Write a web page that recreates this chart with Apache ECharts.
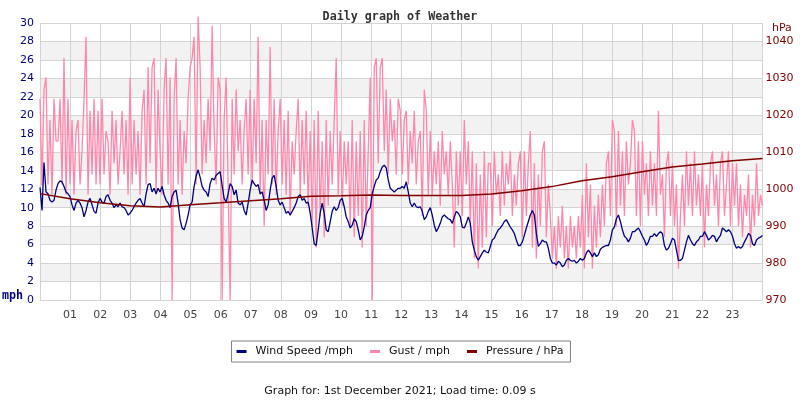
<!DOCTYPE html>
<html><head><meta charset="utf-8">
<script src="https://cdn.jsdelivr.net/npm/echarts@6/dist/echarts.min.js"></script>
<style>html,body{margin:0;padding:0;background:#fff}#c{width:800px;height:400px}</style>
</head><body><div id="c"></div>
<script>
// sampling interval of wind/gust readings, in hours (362 samples over the day)
const SAMPLE_HOURS = 24 / 361;

const windSpeed = [
12.2, 9.7, 14.9, 11.7, 11.5, 10.8, 10.6, 10.8, 11.9, 12.6, 12.9, 12.8, 12.3, 11.7, 11.5,
11.2, 10.3, 9.7, 10.5, 10.8, 10.5, 10.0, 9.0, 9.7, 10.6, 11.0, 10.3, 9.6, 9.4, 10.5,
11.0, 10.6, 10.5, 11.2, 11.4, 10.8, 10.5, 10.0, 10.3, 10.1, 10.5, 10.1, 10.0, 9.7, 9.2,
9.4, 9.7, 10.1, 10.5, 10.8, 11.0, 10.5, 10.1, 11.5, 12.5, 12.6, 11.7, 12.1, 11.5, 12.1,
11.7, 12.3, 11.4, 10.8, 10.5, 10.0, 11.2, 11.7, 11.9, 10.5, 8.7, 7.8, 7.6, 8.3, 9.2, 10.3, 10.6, 12.3, 13.4, 14.1,
13.3, 12.3, 11.9, 11.7, 11.2, 12.6, 13.2, 13.0, 13.5, 13.7, 13.9, 12.4, 11.0, 10.6, 11.5, 12.6, 12.3, 11.4, 11.9, 10.5,
10.3, 10.6, 9.7, 9.2, 10.5, 11.9, 13.0, 12.6, 12.3, 12.5, 11.5, 11.7, 10.8, 9.7, 10.3, 11.9, 13.2, 13.5, 12.3, 10.8,
10.3, 10.6, 10.0, 9.4, 9.6, 9.2, 9.6, 10.0, 10.5, 11.2, 11.4, 10.8, 11.0, 10.5, 10.6, 9.4, 7.8, 6.1, 5.9, 7.6,
9.4, 10.5, 9.4, 7.6, 7.4, 8.5, 9.6, 10.1, 9.7, 10.0, 10.8, 11.0, 10.1, 9.0, 8.5, 7.8, 8.1, 8.8, 8.5, 7.6,
6.5, 6.9, 7.9, 9.2, 9.7, 10.0, 11.5, 12.3, 13.0, 13.2, 13.9, 14.4, 14.6, 14.3, 13.0, 12.1, 11.9, 11.7, 11.9, 12.1,
12.1, 12.3, 12.1, 12.8, 11.7, 10.5, 10.1, 10.5, 10.1, 10.0, 10.1, 9.6, 8.7, 9.0, 9.6, 10.0, 9.2, 8.1, 7.4, 7.8,
8.3, 9.0, 9.2, 9.0, 8.8, 8.7, 8.3, 9.0, 9.6, 9.4, 9.0, 7.9, 7.8, 8.3, 9.0, 8.3, 6.3, 5.4, 4.7, 4.3,
4.7, 5.1, 5.4, 5.2, 5.1, 5.8, 6.5, 6.7, 7.2, 7.6, 7.8, 8.1, 8.5, 8.7, 8.3, 7.9, 7.6, 7.2, 6.5, 5.9,
5.9, 6.3, 7.0, 7.8, 8.5, 9.2, 9.7, 9.2, 7.2, 5.8, 6.1, 6.5, 6.3, 6.3, 5.6, 4.5, 4.0, 4.0, 3.8, 4.2,
4.0, 3.6, 3.8, 4.3, 4.5, 4.3, 4.2, 4.3, 4.0, 4.2, 4.5, 4.3, 4.5, 5.1, 5.4, 5.1, 4.7, 5.1, 4.7, 4.9,
5.5, 5.7, 5.8, 5.9, 5.9, 6.5, 7.6, 7.9, 8.8, 9.2, 8.5, 7.6, 6.9, 6.7, 6.3, 6.7, 7.4, 7.4, 7.6, 7.8,
7.4, 6.9, 6.5, 5.9, 6.3, 6.9, 6.9, 7.2, 6.9, 7.2, 7.4, 7.2, 5.9, 5.4, 5.6, 6.1, 6.7, 6.5, 5.4, 4.3,
4.3, 4.5, 5.4, 6.3, 7.0, 6.5, 6.1, 5.9, 6.3, 6.5, 6.9, 6.9, 7.4, 7.0, 6.5, 6.7, 7.0, 6.9, 6.3, 6.7,
7.0, 7.8, 7.6, 7.4, 7.6, 7.4, 6.9, 6.1, 5.6, 5.8, 5.6, 5.8, 6.3, 6.7, 7.2, 7.0, 6.1, 5.9, 6.5, 6.7, 6.8, 7.0
];

const gust = [
21.8, 12.4, 22.8, 24.1, 12.5, 19.5, 11.4, 21.8, 17.2, 17.2, 21.8, 12.5, 26.2, 11.4, 21.8,
12.5, 19.5, 11.4, 18.3, 19.5, 12.5, 16.1, 21.8, 28.5, 11.4, 20.5, 13.6, 21.8, 12.5, 20.5,
12.5, 21.8, 13.6, 18.3, 17.2, 11.4, 20.5, 14.8, 19.5, 12.5, 16.1, 20.5, 13.6, 19.5, 11.4,
24.1, 12.5, 19.5, 13.6, 18.3, 11.4, 20.5, 22.8, 12.5, 25.2, 14.8, 25.2, 26.2, 11.4, 22.8,
16.1, 11.4, 22.8, 26.2, 12.5, 24.1, 0, 21.8, 26.2, 12.5, 19.5, 11.4, 18.3, 14.8, 21.8,
25.2, 26.2, 28.5, 12.5, 30.7, 25.2, 13.6, 19.5, 14.8, 21.8, 16.1, 29.7, 18.3, 12.5, 24.1,
22.8, 0, 19.5, 24.1, 12.5, 0, 21.8, 13.6, 22.8, 16.1, 19.5, 12.5, 18.3, 21.8, 13.6,
22.8, 12.5, 21.8, 14.8, 28.5, 11.4, 19.5, 8.0, 19.5, 13.6, 27.4, 12.5, 21.8, 11.4, 18.3,
21.8, 12.5, 19.5, 11.4, 20.5, 9.1, 17.2, 13.6, 18.3, 21.8, 11.4, 19.5, 12.5, 20.5, 10.2,
18.3, 8.0, 19.5, 5.7, 20.5, 9.1, 17.2, 6.8, 19.5, 10.2, 18.3, 12.5, 19.5, 26.2, 11.4,
18.3, 10.2, 17.2, 12.5, 17.2, 8.0, 19.5, 6.8, 17.2, 9.1, 18.3, 5.7, 19.5, 8.0, 16.1,
24.1, 0, 25.2, 26.2, 14.8, 25.2, 26.2, 16.1, 22.8, 13.6, 21.8, 17.2, 19.5, 13.6, 21.8,
20.5, 13.6, 19.5, 20.5, 12.5, 18.3, 14.8, 20.5, 12.5, 17.2, 18.3, 9.1, 22.8, 20.5, 11.4,
18.3, 11.4, 16.1, 12.5, 17.2, 10.2, 18.3, 13.6, 16.1, 11.4, 17.2, 12.5, 5.7, 16.1, 10.2,
16.1, 9.1, 19.5, 12.5, 17.2, 8.0, 16.1, 4.5, 14.8, 3.4, 13.6, 5.7, 16.1, 6.8, 14.8,
14.8, 8.0, 16.1, 11.4, 13.6, 9.1, 16.1, 10.2, 14.8, 12.5, 16.1, 9.1, 13.6, 10.2, 14.8,
16.1, 6.8, 16.1, 9.1, 14.8, 18.3, 5.7, 14.8, 4.5, 13.6, 8.0, 16.1, 17.2, 6.8, 12.5,
9.1, 4.5, 8.0, 3.4, 9.1, 5.7, 10.2, 4.5, 8.0, 3.4, 9.1, 5.7, 8.0, 4.5, 9.1,
5.7, 11.4, 3.4, 14.8, 6.8, 12.5, 3.4, 10.2, 5.7, 11.4, 6.8, 12.5, 8.0, 14.8, 16.1,
9.1, 19.5, 18.3, 8.0, 18.3, 10.2, 16.1, 9.1, 17.2, 12.5, 14.8, 19.5, 18.3, 9.1, 17.2,
8.0, 17.2, 11.4, 14.8, 9.1, 16.1, 10.2, 14.8, 9.1, 20.5, 11.4, 13.6, 6.8, 14.8, 16.1,
9.1, 14.8, 8.0, 12.5, 3.4, 9.1, 13.6, 8.0, 16.1, 10.2, 14.8, 9.1, 16.1, 10.2, 13.6,
9.1, 14.8, 5.7, 12.5, 9.1, 14.8, 16.1, 10.2, 13.6, 8.0, 14.8, 16.1, 9.1, 12.5, 16.1,
8.0, 14.8, 10.2, 14.8, 8.0, 12.5, 6.8, 11.4, 9.1, 13.6, 5.7, 11.4, 8.0, 14.8, 9.1, 11.4, 10.2
];

// hourly pressure, hours 0..24
const pressureHourly = [
998.8, 997.4, 996.3, 995.5, 995.2, 995.8, 996.3, 996.9, 997.4, 998.1, 998.2, 998.4, 998.3,
998.3, 998.3, 998.7, 999.6, 1000.7, 1002.3, 1003.4, 1004.7, 1006.0, 1006.8, 1007.7, 1008.3
];

const hourLabels = ['', '01','02','03','04','05','06','07','08','09','10','11','12',
  '13','14','15','16','17','18','19','20','21','22','23', ''];

const seriesNames = ['Wind Speed /mph', 'Gust / mph', 'Pressure / hPa'];

const windData = windSpeed.map((v, i) => [i * SAMPLE_HOURS, v]);
const gustData = gust.map((v, i) => [i * SAMPLE_HOURS, v]);
const pressureData = pressureHourly.map((v, i) => [i, v]);

const chart = echarts.init(document.getElementById('c'), null, {renderer: 'canvas'});
chart.setOption({
  animation: false,
  backgroundColor: '#ffffff',
  title: [
    {text: 'Daily graph of Weather', left: 'center', top: 6,
     textStyle: {fontFamily: 'DejaVu Sans Mono', fontWeight: 'bold', fontSize: 11.7, color: '#333333'}},
    {text: 'Graph for: 1st December 2021; Load time: 0.09 s', left: 'center', top: 381,
     textStyle: {fontFamily: 'DejaVu Sans', fontWeight: 'normal', fontSize: 11, color: '#111111'}}
  ],
  legend: {
    data: seriesNames, left: 'center', top: 341,
    padding: [5, 7, 5, 5], borderColor: '#808080', borderWidth: 1,
    icon: 'rect', itemWidth: 10, itemHeight: 3, itemGap: 17,
    textStyle: {fontFamily: 'DejaVu Sans', fontSize: 11, color: '#111111', padding: [0, 0, 0, 4]}
  },
  grid: {left: 40, right: 37.5, top: 23, bottom: 100},
  xAxis: {
    type: 'value', min: 0, max: 24, interval: 1,
    axisLine: {show: false}, axisTick: {show: false},
    splitLine: {show: true, lineStyle: {color: '#d3d3d3', width: 1}},
    axisLabel: {formatter: v => hourLabels[v] || '', color: '#444444',
      fontFamily: 'DejaVu Sans', fontSize: 11, margin: 10}
  },
  yAxis: [
    {type: 'value', min: 0, max: 30, interval: 2,
     axisLine: {show: false}, axisTick: {show: false},
     splitLine: {show: true, lineStyle: {color: '#d3d3d3', width: 1}},
     splitArea: {show: true, areaStyle: {color: ['#ffffff', '#f2f2f2']}},
     axisLabel: {color: '#000080', fontFamily: 'DejaVu Sans', fontSize: 11, margin: 6}},
    {type: 'value', min: 970, max: 1045, interval: 10, position: 'right',
     axisLine: {show: false}, axisTick: {show: false}, splitLine: {show: false},
     axisLabel: {color: '#800000', fontFamily: 'DejaVu Sans', fontSize: 11, margin: 3,
       showMaxLabel: false, formatter: v => String(v)}}
  ],
  graphic: [
    {type: 'text', left: 2, top: 290, style: {text: 'mph', font: 'bold 11.7px "DejaVu Sans Mono"', fill: '#000080'}},
    {type: 'text', left: 772, top: 23, style: {text: 'hPa', font: '11px "DejaVu Sans"', fill: '#800000'}}
  ],
  series: [
    {name: seriesNames[0], type: 'line', data: windData, showSymbol: false, symbol: 'none',
     lineStyle: {color: '#000080', width: 1.3}, itemStyle: {color: '#000080'}, z: 3},
    {name: seriesNames[1], type: 'line', data: gustData, showSymbol: false, symbol: 'none', clip: false,
     lineStyle: {color: '#ff88aa', width: 1.3}, itemStyle: {color: '#ff88aa'}, z: 2},
    {name: seriesNames[2], type: 'line', yAxisIndex: 1, data: pressureData, showSymbol: false, symbol: 'none',
     lineStyle: {color: '#800000', width: 1.5}, itemStyle: {color: '#800000'}, z: 4}
  ]
});
</script></body></html>
